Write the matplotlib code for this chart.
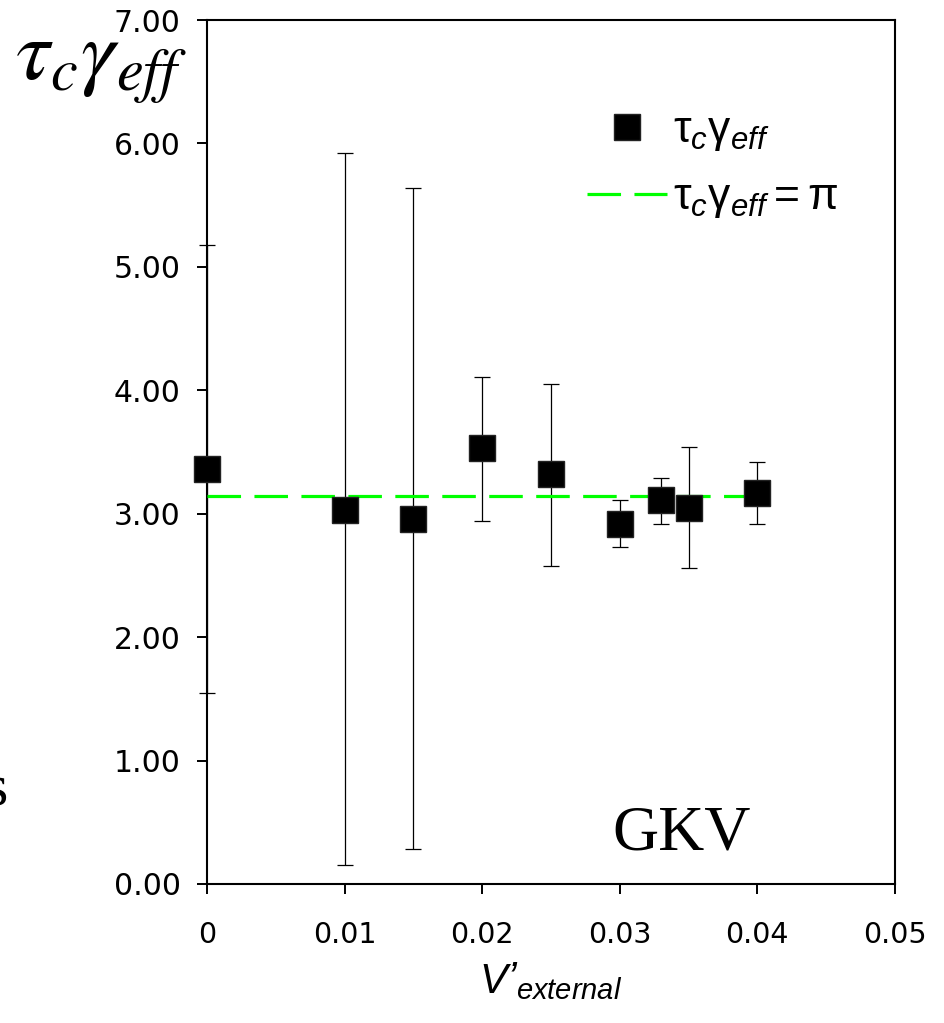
import numpy as np
import matplotlib.pyplot as plt

plt.rcParams['font.family'] = ['DejaVu Sans']
plt.rcParams['mathtext.fontset'] = 'custom'
plt.rcParams['mathtext.rm'] = 'Liberation Sans'
plt.rcParams['mathtext.it'] = 'Liberation Sans:italic'

# data
v_ext = [0.0, 0.01, 0.015, 0.02, 0.025, 0.03, 0.033, 0.035, 0.04]
tau_gamma = [3.36, 3.03, 2.96, 3.53, 3.32, 2.92, 3.11, 3.05, 3.17]
err_lo = [1.55, 0.15, 0.28, 2.94, 2.58, 2.73, 2.92, 2.56, 2.92]
err_hi = [5.18, 5.92, 5.64, 4.11, 4.05, 3.11, 3.29, 3.54, 3.42]
pi_line_x = [0.0, 0.04]
pi_line_y = [np.pi, np.pi]

x_ticks = [0, 0.01, 0.02, 0.03, 0.04, 0.05]
x_tick_labels = ['0', '0.01', '0.02', '0.03', '0.04', '0.05']
y_ticks = [0, 1, 2, 3, 4, 5, 6, 7]

v = np.array(v_ext)
y = np.array(tau_gamma)
yerr = np.array([y - np.array(err_lo), np.array(err_hi) - y])

fig = plt.figure(figsize=(9.45, 10.23), dpi=100)
ax = fig.add_axes([0.219, 0.1359, 0.728, 0.8445])

ax.errorbar(v, y, yerr=yerr, fmt='none', ecolor='black', elinewidth=0.9,
            capsize=6, capthick=0.9, clip_on=False, zorder=2)
ax.plot(pi_line_x, pi_line_y, color='#00ff00', lw=2.3, dashes=(10.5, 4.2),
        label=r'$\mathrm{\tau}_c\mathrm{\gamma}_{eff}=\mathrm{\pi}$', zorder=3)
ax.plot(v, y, 's', color='black', markersize=19, markeredgecolor='#222222',
        label=r'$\mathrm{\tau}_c\mathrm{\gamma}_{eff}$', clip_on=False, zorder=4)

ax.set_xlim(0, 0.05)
ax.set_ylim(0, 7)
ax.set_xticks(x_ticks)
ax.set_xticklabels(x_tick_labels)
ax.set_yticks(y_ticks)
ax.set_yticklabels(['%.2f' % t for t in y_ticks])
ax.tick_params(direction='out', length=7, width=1.4, labelsize=20.5)
ax.tick_params(axis='y', labelsize=21.5, pad=12)
ax.tick_params(axis='x', pad=20)
for s in ax.spines.values():
    s.set_linewidth(1.5)

ax.set_xlabel('$V\u02bc_{external}$', fontsize=30, labelpad=8)

handles, labels = ax.get_legend_handles_labels()
ax.legend(handles[::-1], labels[::-1], loc='upper left', bbox_to_anchor=(0.552, 0.898),
          frameon=False, fontsize=32, handlelength=1.8, handletextpad=0.15,
          labelspacing=0.5, borderpad=0, borderaxespad=0)

fig.text(0.016, 0.978, r'$\tau_c\gamma_{eff}$', fontsize=62, math_fontfamily='stix',
         va='top', ha='left')
ax.text(0.69, 0.04, 'GKV', transform=ax.transAxes, fontsize=46,
        family=['Liberation Serif'], ha='center', va='baseline')
fig.text(8 / 945, 1 - 805 / 1023, 's', fontsize=43, family=['Liberation Serif'],
         ha='right', va='baseline')

fig.savefig('out.png', dpi=100)
